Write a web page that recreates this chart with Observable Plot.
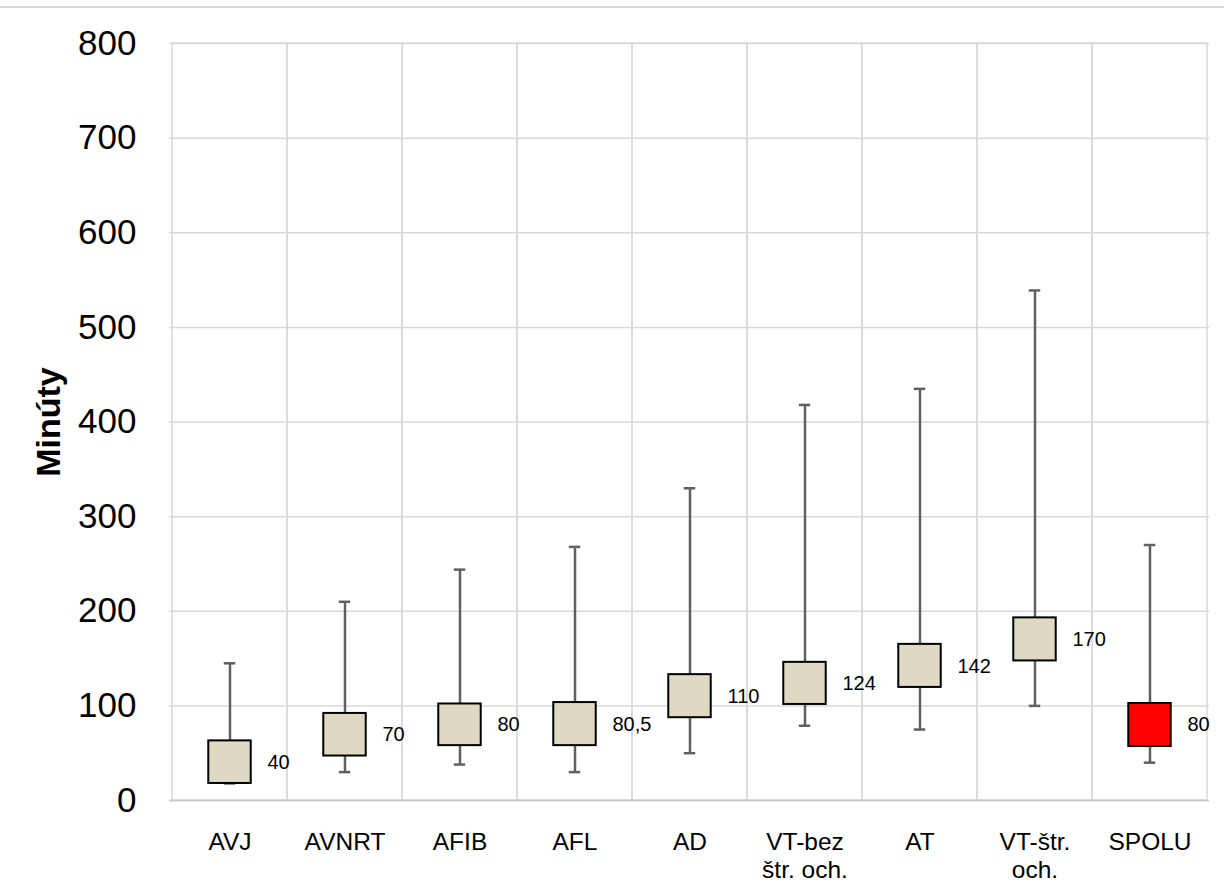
<!DOCTYPE html>
<html>
<head>
<meta charset="utf-8">
<script src="https://cdn.jsdelivr.net/npm/d3@7"></script>
<script src="https://cdn.jsdelivr.net/npm/@observablehq/plot@0.6"></script>
<style>
  html, body { margin: 0; padding: 0; background: #fff; }
  #wrap { position: relative; width: 1224px; height: 884px; }
  #topline { position: absolute; left: 0; top: 6px; width: 1224px; height: 2px; background: #d9d9d9; }
</style>
</head>
<body>
<div id="wrap"><div id="topline"></div><div id="chart"></div></div>
<script>
const categories = ["AVJ", "AVNRT", "AFIB", "AFL", "AD", "VT-bez štr. och.", "AT", "VT-štr. och.", "SPOLU"];
const minVals    = [18, 30, 38, 30, 50, 79, 75, 100, 40];
const q1Vals     = [18, 47, 58, 58, 87.5, 101.5, 119.5, 147.5, 57];
const medianVals = [40, 70, 80, 80.5, 110, 124, 142, 170, 80];
const q3Vals     = [63, 92, 102, 103.5, 133, 146, 165, 193, 102.5];
const maxVals    = [145, 210, 244, 268, 330, 418, 435, 539, 270];
const yTicks     = [0, 100, 200, 300, 400, 500, 600, 700, 800];
const yTitle     = "Minúty";
const totalCategory = "SPOLU";

const data = categories.map((c, i) => ({
  category: c,
  min: minVals[i], q1: q1Vals[i], median: medianVals[i], q3: q3Vals[i], max: maxVals[i]
}));

const W = 1224, H = 884, ML = 169, MR = 15, MT = 43, MB = 84;
const band = (W - ML - MR) / categories.length;
const boxW = 43, capW = 12;
const boxInset = (band - boxW) / 2;
const capInset = (band - capW) / 2;
const whisker = "#606060";
const grid = "#d9d9d9";

const chart = Plot.plot({
  width: W, height: H,
  marginLeft: ML, marginRight: MR, marginTop: MT, marginBottom: MB,
  style: { fontFamily: "'Liberation Sans', Arial, sans-serif", background: "transparent", color: "black" },
  x: { domain: categories, padding: 0 },
  y: { domain: [0, d3.max(yTicks)] },
  marks: [
    Plot.ruleY(yTicks, { stroke: grid, strokeWidth: 1.5 }),
    Plot.barY(categories, { x: d => d, y1: 0, y2: d3.max(yTicks), fill: "none", stroke: grid, strokeWidth: 1.5 }),
    Plot.ruleY([0], { stroke: "#c8c8c8", strokeWidth: 1.5 }),
    Plot.ruleX(data, { x: "category", y1: "min", y2: "max", stroke: whisker, strokeWidth: 2.5 }),
    Plot.tickY(data, { x: "category", y: "max", stroke: whisker, strokeWidth: 2.5, inset: capInset }),
    Plot.tickY(data, { x: "category", y: "min", stroke: whisker, strokeWidth: 2.5, inset: capInset }),
    Plot.barY(data.filter(d => d.category !== totalCategory), {
      x: "category", y1: "q1", y2: "q3",
      fill: "#ddd9c3", stroke: "black", strokeWidth: 2,
      insetLeft: boxInset, insetRight: boxInset
    }),
    Plot.barY(data.filter(d => d.category === totalCategory), {
      x: "category", y1: "q1", y2: "q3",
      fill: "#ff0000", stroke: "black", strokeWidth: 2,
      insetLeft: boxInset, insetRight: boxInset
    }),
    Plot.text(data, {
      x: "category", y: "median",
      text: d => String(d.median).replace(".", ","),
      dx: boxW / 2 + 16, textAnchor: "start", fontSize: 20, fill: "black"
    }),
    Plot.axisY(yTicks, { tickSize: 0, tickPadding: 33, fontSize: 35, label: null }),
    Plot.axisX({ tickSize: 0, tickPadding: 30, fontSize: 24.5, lineHeight: 1.13,
                 tickFormat: d => d.replace(" ", "\n"), label: null }),
    Plot.text([yTitle], {
      text: d => d, frameAnchor: "left", rotate: -90, dx: -120,
      fontWeight: "bold", fontSize: 34, textAnchor: "middle", lineAnchor: "middle", fill: "black"
    })
  ]
});
document.getElementById("chart").appendChild(chart);
</script>
</body>
</html>
